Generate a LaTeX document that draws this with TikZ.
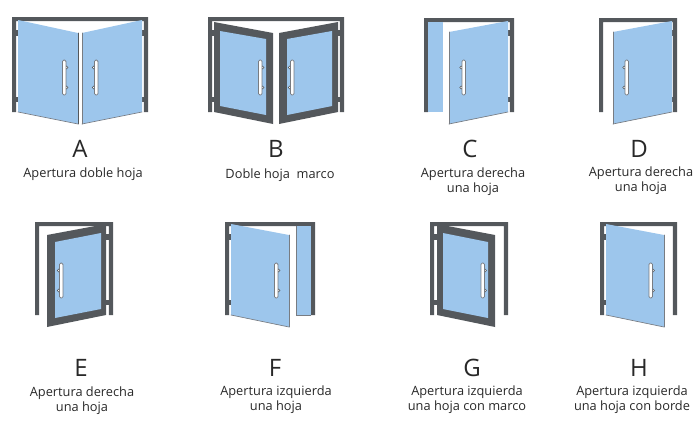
\documentclass[tikz,border=0pt]{standalone}
\usepackage{fontspec}
\setmainfont{Open Sans}
\usepackage{tkz-euclide}
\definecolor{GlassClr}{RGB}{157,198,236}
\definecolor{FrameClr}{RGB}{84,88,92}
\definecolor{EdgeClr}{RGB}{120,124,130}
\definecolor{TextClr}{RGB}{40,40,40}
\tikzset{
  letternode/.style={text=TextClr,font=\fontsize{18}{20}\selectfont,inner sep=0pt},
  captionnode/.style={text=TextClr,font=\fontsize{9.6}{11.2}\selectfont,align=center,inner sep=0pt},
  glassfill/.style={fill=GlassClr},
  framefill/.style={fill=FrameClr}
}
% frame: left, right, top, bottom
\newcommand{\DoorFrame}[4]{
  \fill[framefill] (#1,#4) -- (#1,#3) -- (#2,#3) -- (#2,#4) -- ++(-4.2,0) -- ($(#2,#3)+(-4.2,4.2)$) -- ($(#1,#3)+(4.2,4.2)$) -- ($(#1,#4)+(4.2,0)$) -- cycle;
}
% hinges on a post: x of the outer side, x of the inner side
\newcommand{\DoorHinges}[2]{
  \fill[framefill] (#1,30) rectangle (#2,36);
  \fill[framefill] (#1,97) rectangle (#2,102);
}
\newcommand{\DoorHingesLow}[2]{
  \fill[framefill] (#1,233.5) rectangle (#2,239.5);
  \fill[framefill] (#1,300) rectangle (#2,305);
}
% handle: left, top, offset of the screws
\newcommand{\DoorHandle}[3]{
  \filldraw[fill=white,draw=FrameClr,line width=.45pt] (#1+#3,#2+7.5) circle (1.5);
  \filldraw[fill=white,draw=FrameClr,line width=.45pt] (#1+#3,#2+27.5) circle (1.5);
  \filldraw[fill=white,draw=EdgeClr,line width=.6pt,rounded corners=1pt] (#1,#2) rectangle ++(3.4,35);
}
\begin{document}
\begin{tikzpicture}[x=.75pt,y=-.75pt]
\useasboundingbox (0,0) rectangle (700,422);

% A
\DoorFrame{12}{148}{17}{112}
\DoorHinges{12}{19}
\DoorHinges{141}{148}
\tkzDefPoints{18/20/Aa,78/33/Ab,78/124/Ac,18/112/Ad,82/33/Ae,142/20/Af,142/112/Ag,82/124/Ah}
\tkzFillPolygon[glassfill](Aa,Ab,Ac,Ad)
\tkzFillPolygon[glassfill](Ae,Af,Ag,Ah)
\tkzDrawSegment[FrameClr,line width=.7pt](Ab,Ac)
\tkzDrawSegment[EdgeClr,line width=.5pt](Ad,Ac)
\tkzDrawSegment[EdgeClr,line width=.5pt](Ae,Ah)
\tkzDrawSegment[EdgeClr,line width=.5pt](Ah,Ag)
\DoorHandle{62.5}{60}{4}
\DoorHandle{94.5}{60}{-.7}

% B
\DoorFrame{208}{344}{17}{112}
\DoorHinges{208}{215}
\DoorHinges{337}{344}
\tkzDefPoints{214/22/Ba,273/33/Bb,273/124/Bc,214/112/Bd,220/31/Be,266/39/Bf,266/115/Bg,220/106/Bh}
\tkzDefPoints{279/33/Bi,338/22/Bj,338/112/Bk,279/124/Bl,287/39/Bm,332/31/Bn,332/106/Bo,287/115/Bp}
\tkzFillPolygon[framefill](Ba,Bb,Bc,Bd)
\tkzFillPolygon[glassfill](Be,Bf,Bg,Bh)
\tkzFillPolygon[framefill](Bi,Bj,Bk,Bl)
\tkzFillPolygon[glassfill](Bm,Bn,Bo,Bp)
\DoorHandle{258.5}{60}{4}
\DoorHandle{290.5}{60}{-.7}

% C
\DoorFrame{424}{514}{18}{112}
\DoorHinges{508}{514}
\fill[glassfill] (428.2,22.2) rectangle (443,112);
\tkzDefPoints{449/32/Ca,508/21/Cb,508/112/Cc,449/124/Cd}
\tkzFillPolygon[glassfill](Ca,Cb,Cc,Cd)
\tkzDrawSegment[EdgeClr,line width=.5pt](Cd,Cc)
\tkzDrawSegment[EdgeClr,line width=.4pt](Ca,Cd)
\DoorHandle{462}{60}{-.7}

% D
\DoorFrame{599}{677}{18}{112}
\DoorHinges{671}{677}
\tkzDefPoints{613/32/Da,672/21/Db,672/112/Dc,613/124/Dd}
\tkzFillPolygon[glassfill](Da,Db,Dc,Dd)
\tkzDrawSegment[EdgeClr,line width=.5pt](Dd,Dc)
\tkzDrawSegment[EdgeClr,line width=.4pt](Da,Dd)
\DoorHandle{625}{60}{-.7}

% E
\DoorFrame{35}{113}{222}{315}
\DoorHingesLow{106}{113}
\tkzDefPoints{47/235/Ea,106/224/Eb,106/315/Ec,47/327/Ed,55/242/Ee,101/233/Ef,101/309/Eg,55/318/Eh}
\tkzFillPolygon[framefill](Ea,Eb,Ec,Ed)
\tkzFillPolygon[glassfill](Ee,Ef,Eg,Eh)
\DoorHandle{59.5}{263}{-.7}

% F
\DoorFrame{225}{315}{222}{315}
\DoorHingesLow{225}{231}
\fill[glassfill] (296,226.2) rectangle (310.8,315);
\draw[EdgeClr,line width=.4pt] (296,226.2) -- (296,315) -- (310.8,315);
\tkzDefPoints{231/224/Fa,289/235/Fb,289/327/Fc,231/315/Fd}
\tkzFillPolygon[glassfill](Fa,Fb,Fc,Fd)
\tkzDrawSegment[EdgeClr,line width=.5pt](Fd,Fc)
\tkzDrawSegment[EdgeClr,line width=.4pt](Fb,Fc)
\DoorHandle{274.5}{263}{4}

% G
\DoorFrame{430}{508}{222}{315}
\DoorHingesLow{430}{437}
\tkzDefPoints{437/224/Ga,495/235/Gb,495/327/Gc,437/315/Gd,443/233/Ge,488/242/Gf,488/318/Gg,443/309/Gh}
\tkzFillPolygon[framefill](Ga,Gb,Gc,Gd)
\tkzFillPolygon[glassfill](Ge,Gf,Gg,Gh)
\DoorHandle{481}{263}{4}

% H
\DoorFrame{600}{677}{222}{315}
\DoorHingesLow{600}{606}
\tkzDefPoints{606/224/Ha,664/235/Hb,664/327/Hc,606/315/Hd}
\tkzFillPolygon[glassfill](Ha,Hb,Hc,Hd)
\tkzDrawSegment[EdgeClr,line width=.5pt](Hd,Hc)
\tkzDrawSegment[EdgeClr,line width=.4pt](Hb,Hc)
\DoorHandle{649}{263}{4}

% letters
\node[letternode] (LetterA) at (80,149) {A};
\node[letternode] (LetterB) at (276,149) {B};
\node[letternode] (LetterC) at (470,149) {C};
\node[letternode] (LetterD) at (639,149) {D};
\node[letternode] (LetterE) at (81,368) {E};
\node[letternode] (LetterF) at (275,368) {F};
\node[letternode] (LetterG) at (472,368) {G};
\node[letternode] (LetterH) at (639,368) {H};

% captions
\node[captionnode] (TextA) at (83,174.5) {Apertura doble hoja};
\node[captionnode] (TextB) at (280,175.5) {Doble hoja\ \ marco};
\node[captionnode] (TextC) at (473,182) {Apertura derecha\\una hoja};
\node[captionnode] (TextD) at (641,181) {Apertura derecha\\una hoja};
\node[captionnode] (TextE) at (82,400.5) {Apertura derecha\\una hoja};
\node[captionnode] (TextF) at (276,400) {Apertura izquierda\\una hoja};
\node[captionnode] (TextG) at (467,400) {Apertura izquierda\\una hoja con marco};
\node[captionnode] (TextH) at (632,400) {Apertura izquierda\\una hoja con borde};
\end{tikzpicture}
\end{document}
